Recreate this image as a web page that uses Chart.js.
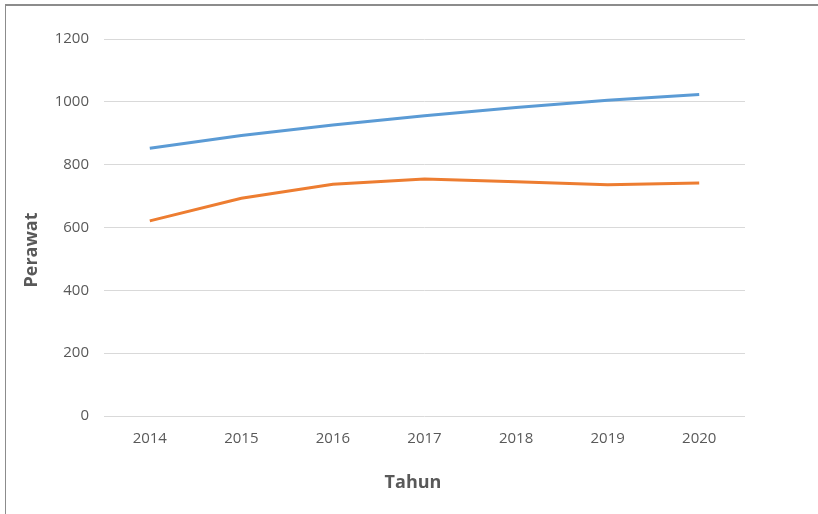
<!DOCTYPE html>
<html>
<head>
<meta charset="utf-8">
<script src="https://cdn.jsdelivr.net/npm/chart.js@4"></script>
<style>
  html, body { margin: 0; padding: 0; background: #fff; }
  #wrap { position: relative; width: 818px; height: 514px; }
  #frame { position: absolute; left: 5px; top: 4px; right: 0; bottom: 0; border-left: 1px solid #8c8c8c; border-top: 2px solid #8c8c8c; }
  canvas { position: absolute; left: 0; top: 0; }
</style>
</head>
<body>
<div id="wrap">
  <div id="frame"></div>
  <canvas id="myChart" width="818" height="514"></canvas>
</div>
<script>
// data
const years = ["2014", "2015", "2016", "2017", "2018", "2019", "2020"];
const seriesBlue = [852, 893, 926, 956, 982, 1005, 1023];
const seriesOrange = [621, 693, 738, 754, 746, 736, 742];
const yTicks = [0, 200, 400, 600, 800, 1000, 1200];
const xTitle = "Tahun";
const yTitle = "Perawat";

const textGray = "#595959";
const ctx = document.getElementById('myChart');

function createDataSet(label, color, values) {
    return {
        label: label,
        data: values,
        borderColor: color,
        backgroundColor: color,
        borderWidth: 3,
        pointRadius: 0,
        tension: 0
    }
}

// axis titles, placed like the original (not centred on the plot)
const axisTitles = {
    id: 'axisTitles',
    afterDraw(chart) {
        const c = chart.ctx;
        const area = chart.chartArea;
        c.save();
        c.fillStyle = textGray;
        c.font = "bold 18px 'Open Sans'";
        c.textAlign = 'center';
        c.textBaseline = 'middle';
        c.fillText(xTitle, area.left + 309, area.bottom + 67);
        c.translate(32, area.top + 211);
        c.rotate(-Math.PI / 2);
        c.fillText(yTitle, 0, 0);
        c.restore();
    }
};

let chart1 = new Chart(ctx, {
    type: 'line',
    data: {
        labels: years,
        datasets: [
            createDataSet("Series 1", "#5b9bd5", seriesBlue),
            createDataSet("Series 2", "#ed7d31", seriesOrange)
        ]
    },
    options: {
        responsive: false,
        animation: false,
        layout: { padding: { top: 39, right: 73, bottom: 0, left: 0 } },
        plugins: {
            legend: { display: false },
            tooltip: { enabled: false }
        },
        scales: {
            x: {
                offset: true,
                grid: { display: false, drawTicks: false },
                border: { display: false },
                ticks: { color: textGray, font: { family: 'Open Sans', size: 15 }, padding: 14 },
                afterFit(scale) { scale.height = 98; }
            },
            y: {
                min: yTicks[0],
                max: yTicks[yTicks.length - 1],
                afterBuildTicks(scale) { scale.ticks = yTicks.map(v => ({ value: v })); },
                grid: { color: "#d9d9d9", lineWidth: 1, drawTicks: false },
                border: { display: false },
                ticks: {
                    color: textGray,
                    font: { family: 'Open Sans', size: 15 },
                    padding: 15,
                    callback: v => String(v)
                },
                afterFit(scale) { scale.width = 104; }
            }
        }
    },
    plugins: [axisTitles]
});
</script>
</body>
</html>
